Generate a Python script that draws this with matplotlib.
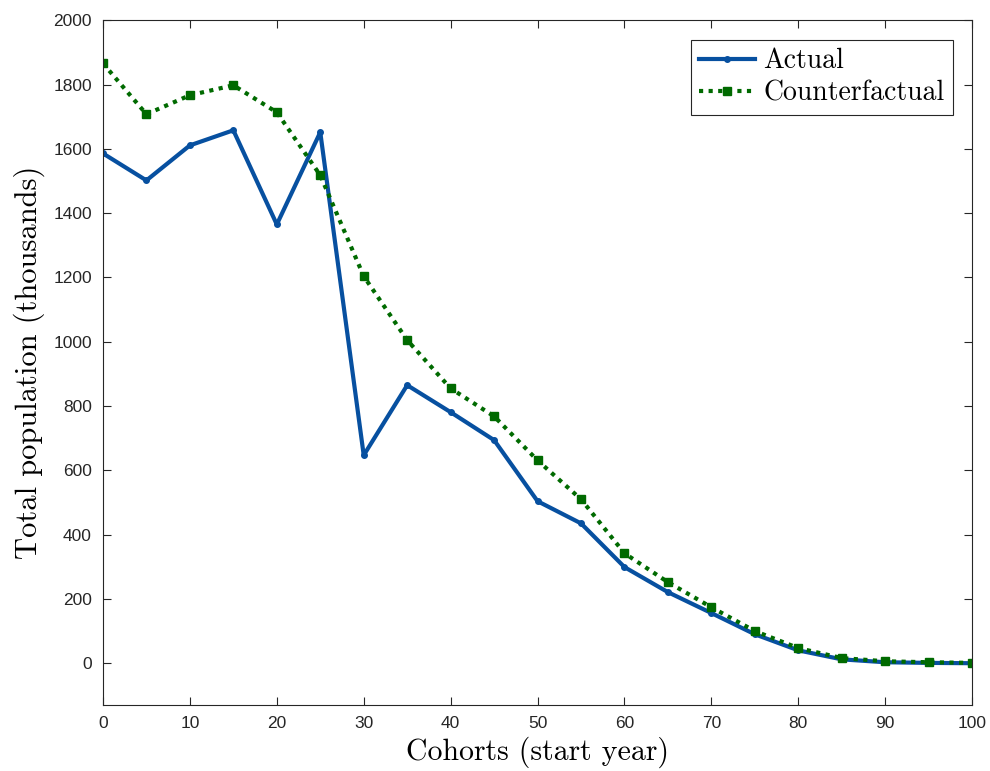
import matplotlib
matplotlib.use('Agg')
from matplotlib import pyplot as plt

cohorts = [0, 5, 10, 15, 20, 25, 30, 35, 40, 45, 50, 55, 60, 65, 70, 75, 80, 85, 90, 95, 100]
actual = [1586, 1502, 1611, 1658, 1365, 1652, 647, 865, 781, 694, 504, 435, 299, 221,
          156, 90, 40, 12, 3, 1, 0]
counterfactual = [1866, 1708, 1767, 1798, 1714, 1518, 1204, 1005, 855, 768, 631, 510, 342,
                  252, 174, 100, 47, 16, 6, 3, 1]
yticks = list(range(0, 2001, 200))
xticks = list(range(0, 101, 10))

plt.rcParams['font.family'] = ['Liberation Sans', 'DejaVu Sans']

fig = plt.figure(figsize=(9.9, 7.71), dpi=100)
ax = fig.add_axes([0.104, 0.0856, 0.878, 0.888])

ax.plot(cohorts, actual, color='#0750a0', linewidth=3, marker='o', markersize=4,
        label='Actual')
ax.plot(cohorts, counterfactual, color='#006a00', linewidth=3, linestyle=(0, (1, 1.3)),
        marker='s', markersize=5.5, label='Counterfactual')

ax.set_xlim(0, 100)
ax.set_ylim(-130, 2000)
ax.set_xticks(xticks)
ax.set_yticks(yticks)
ax.tick_params(direction='in', top=True, right=True, labelsize=12.5, length=6,
               width=0.8, colors='#262626', pad=8)
for s in ax.spines.values():
    s.set_color('#262626')
    s.set_linewidth(0.8)

ax.set_xlabel('Cohorts (start year)', fontname='cmr10', fontsize=21.5, labelpad=4)
ax.set_ylabel('Total population (thousands)', fontname='cmr10', fontsize=22, labelpad=6)

leg = ax.legend(loc='upper right', prop={'family': 'cmr10', 'size': 20},
                fancybox=False, edgecolor='#262626', framealpha=1,
                handlelength=2.0, borderaxespad=0.7, handletextpad=0.3,
                borderpad=0.3, labelspacing=0.2)
leg.get_frame().set_linewidth(0.8)

fig.savefig('out.png', dpi=100)
